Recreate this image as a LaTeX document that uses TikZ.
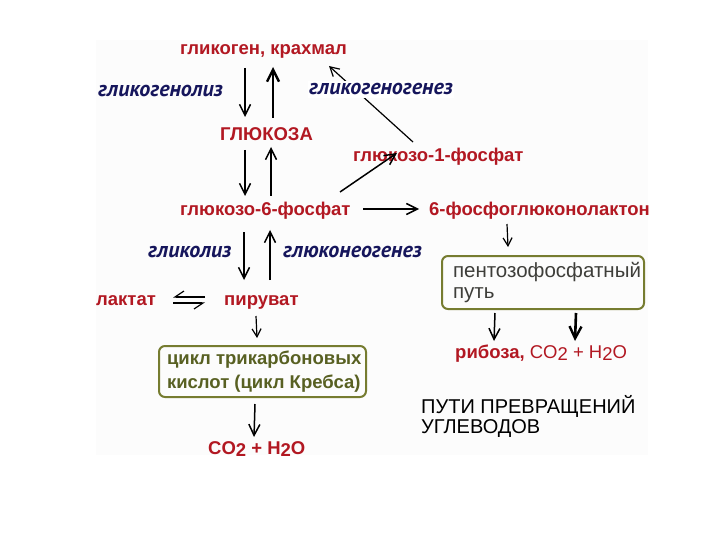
\documentclass[tikz,border=0pt]{standalone}
\usepackage{fontspec}
\setmainfont{Liberation Sans}
\newfontfamily\labfont{PT Sans}
\usetikzlibrary{arrows.meta,calc}
\definecolor{chemred}{RGB}{178,24,34}
\definecolor{procblue}{RGB}{22,22,92}
\definecolor{olivebox}{RGB}{118,124,48}
\definecolor{olivetext}{RGB}{88,96,34}
\definecolor{graytext}{RGB}{62,62,58}
\definecolor{paper}{RGB}{252,252,252}
\tikzset{
  chem/.style={anchor=base west, inner sep=0pt, text=chemred, font=\fontsize{18.5}{22}\selectfont\bfseries},
  proc/.style={anchor=base west, inner sep=0pt, text=procblue, font=\labfont\fontsize{22}{24}\selectfont\bfseries\itshape},
  arr/.style={draw=black, line width=1.5pt, -{Straight Barb[length=11pt,width=11pt,line width=1.5pt]}},
  arrthick/.style={draw=black, line width=2.6pt, -{Straight Barb[length=12pt,width=12pt,line width=2.4pt]}},
  thin/.style={draw=black, line width=1.2pt},
  roundbox/.style={draw=olivebox, line width=2pt, rounded corners=6pt, align=left},
}
\begin{document}
\begin{tikzpicture}[x=1pt,y=-1pt]
\useasboundingbox (0,0) rectangle (720,540);
\fill[paper] (96,40) rectangle (648,455);

% substances
\node[chem] (glycogen) at (180,55) {гликоген, крахмал};
\node[chem] (glucose) at (220,141) {ГЛЮКОЗА};
\node[chem] (g1p) at (353,162) {глюкозо-1-фосфат};
\node[chem] (g6p) at (180,215) {глюкозо-6-фосфат};
\node[chem] (lactone) at (429,215) {6-фосфоглюконолактон};
\node[chem] (lactate) at (96,305) {лактат};
\node[chem] (pyruvate) at (224,305) {пируват};
\node[chem] (ribose) at (455,358) {рибоза, \mdseries CO\raisebox{-0.3ex}{2} + H\raisebox{-0.3ex}{2}O};
\node[chem] (co2) at (208,454) {CO\raisebox{-0.3ex}{2} + H\raisebox{-0.3ex}{2}O};

% boxes
\node[roundbox, anchor=north west, minimum width=202pt, minimum height=53pt, inner xsep=11pt,
      text=graytext, font=\fontsize{20.5}{21}\selectfont] (pentose) at (441,255)
      {\makebox[180pt][l]{пентозофосфатный}\\\makebox[180pt][l]{путь}};
\node[roundbox, anchor=north west, minimum width=207pt, minimum height=51pt, inner xsep=8pt,
      text=olivetext, font=\fontsize{18.5}{24}\selectfont\bfseries] (krebs) at (158,345)
      {\makebox[191pt][l]{цикл трикарбоновых}\\\makebox[191pt][l]{кислот (цикл Кребса)}};

% title
\node[anchor=base west, inner sep=0pt, align=left, font=\fontsize{20}{20}\selectfont] (title) at (421,433)
      {ПУТИ ПРЕВРАЩЕНИЙ\\УГЛЕВОДОВ};

% process labels
\node[proc] (glycogenolysis) at (98,97) {гликогенолиз};
\node[proc] (glycolysis) at (148,258) {гликолиз};
\node[proc] (gluconeo) at (283,257) {глюконеогенез};

% connectors
\draw[arr] ($(glycogen.base west)+(65,13)$) -- ($(glucose.base west)+(25,-24)$);
\draw[arrthick] ($(glucose.base west)+(53,-23)$) -- ($(glycogen.base west)+(93,12)$);
\draw[arr] ($(glucose.base west)+(25,9)$) -- ($(g6p.base west)+(65,-19)$);
\draw[arr] ($(g6p.base west)+(91,-19)$) -- ($(glucose.base west)+(51,6)$);
\draw[arr] ($(g6p.base west)+(160,-23)$) -- ($(g1p.base west)+(44,-9)$);
\draw[arr] ($(g6p.base west)+(183,-6)$) -- ($(lactone.base west)+(-10,-6)$);
\draw[thin, -{Straight Barb[length=9pt,width=10pt,line width=1.2pt]}] ($(g1p.base west)+(60,-20)$) -- ($(glycogen.base west)+(149,11)$);
\node[proc, fill=white, inner xsep=1pt, inner ysep=3pt] (glycogenesis) at (308,95) {гликогеногенез};
\draw[thin, -{Straight Barb[length=8pt,width=9pt,line width=1.2pt]}] ($(lactone.base west)+(78,9)$) -- ($(pentose.north)+(-35,-8)$);
\draw[arr] ($(g6p.base west)+(64,17)$) -- ($(pyruvate.base west)+(20,-25)$);
\draw[arr] ($(pyruvate.base west)+(46,-25)$) -- ($(g6p.base west)+(90,15)$);
\draw[line width=1.3pt, -{Straight Barb[right,length=9pt,width=12pt,line width=1.2pt]}] ($(pyruvate.base west)+(-19,-8)$) -- ($(lactate.base west)+(77,-8)$);
\draw[line width=1.3pt, -{Straight Barb[right,length=9pt,width=12pt,line width=1.2pt]}] ($(lactate.base west)+(77,-2)$) -- ($(pyruvate.base west)+(-19,-2)$);
\draw[thin, -{Straight Barb[length=8pt,width=9pt,line width=1.2pt]}] ($(pyruvate.base west)+(32,11)$) -- ($(krebs.north)+(-5.5,-7)$);
\draw[arr] ($(krebs.south)+(-7.5,6)$) -- ($(co2.base west)+(46,-17)$);
\draw[arr] ($(pentose.south)+(-48,3)$) -- ($(ribose.base west)+(39,-17)$);
\draw[arrthick] ($(pentose.south)+(33,3)$) -- ($(ribose.base west)+(120,-17)$);
\end{tikzpicture}
\end{document}
